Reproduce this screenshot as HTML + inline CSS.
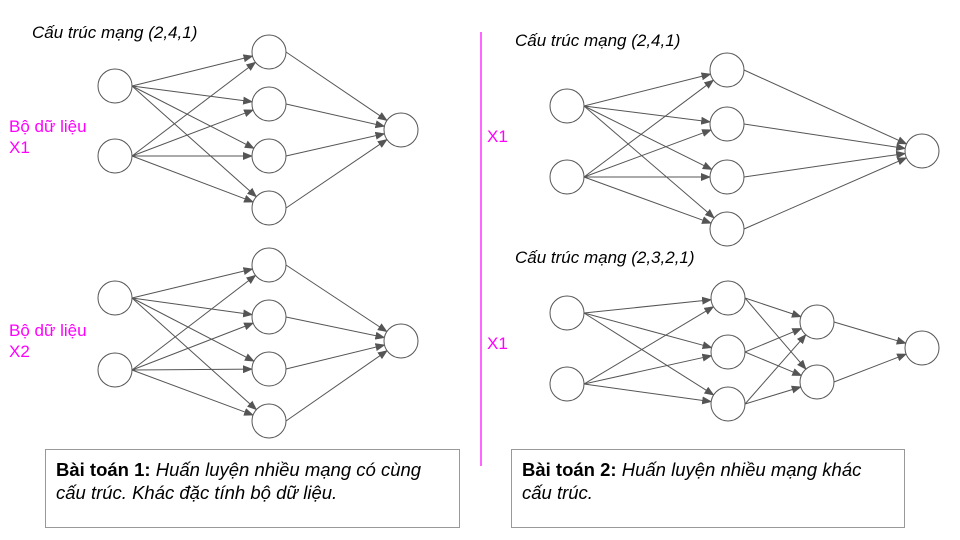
<!DOCTYPE html>
<html><head><meta charset="utf-8"><style>
body{margin:0;width:960px;height:540px;background:#fff;overflow:hidden;position:relative;font-family:"Liberation Sans",sans-serif}
.t{position:absolute;font-size:17px;font-style:italic;color:#000;white-space:nowrap}
.m{position:absolute;font-size:17px;color:#ff00ff;line-height:21px}
.box{position:absolute;border:1px solid #999;font-size:18.5px;line-height:23px;padding:8px 10px 8px 10px;box-sizing:border-box;white-space:nowrap}
svg{position:absolute;left:0;top:0}
</style></head><body>
<svg id="s" width="960" height="540">
<defs><marker id="a" markerWidth="10" markerHeight="8" refX="9" refY="4" orient="auto" markerUnits="userSpaceOnUse"><path d="M0,0 L10,4 L0,8z" fill="#555"/></marker></defs>
<line x1="481" y1="32" x2="481" y2="466" stroke="#ff00ff" stroke-width="1.2"/>
</svg>
<div class="t" style="left:32px;top:23px">Cấu trúc mạng (2,4,1)</div>
<div class="t" style="left:515px;top:31px">Cấu trúc mạng (2,4,1)</div>
<div class="t" style="left:515px;top:248px">Cấu trúc mạng (2,3,2,1)</div>
<div class="m" style="left:9px;top:116px">Bộ dữ liệu<br>X1</div>
<div class="m" style="left:9px;top:320px">Bộ dữ liệu<br>X2</div>
<div class="m" style="left:487px;top:126px">X1</div>
<div class="m" style="left:487px;top:333px">X1</div>
<div class="box" style="left:45px;top:449px;width:415px;height:79px"><b>Bài toán 1:</b> <i>Huấn luyện nhiều mạng có cùng<br>cấu trúc. Khác đặc tính bộ dữ liệu.</i></div>
<div class="box" style="left:511px;top:449px;width:394px;height:79px"><b>Bài toán 2:</b> <i>Huấn luyện nhiều mạng khác<br>cấu trúc.</i></div>
<script>
var s=document.getElementById('s'),R=17,NS='http://www.w3.org/2000/svg';
function net(layers){
 for(var i=0;i<layers.length-1;i++)for(var a of layers[i])for(var b of layers[i+1]){
  var l=document.createElementNS(NS,'line');
  l.setAttribute('x1',a[0]+R);l.setAttribute('y1',a[1]);
  var dx=b[0]-(a[0]+R),dy=b[1]-a[1],d=Math.hypot(dx,dy);
  l.setAttribute('x2',b[0]-R*dx/d);l.setAttribute('y2',b[1]-R*dy/d);
  l.setAttribute('stroke','#555');l.setAttribute('stroke-width','1');l.setAttribute('marker-end','url(#a)');s.appendChild(l);}
 for(var L of layers)for(var p of L){var c=document.createElementNS(NS,'circle');
  c.setAttribute('cx',p[0]);c.setAttribute('cy',p[1]);c.setAttribute('r',R);c.setAttribute('fill','#fff');c.setAttribute('stroke','#555');s.appendChild(c);}
}
net([[[115,86],[115,156]],[[269,52],[269,104],[269,156],[269,208]],[[401,130]]]);
net([[[115,298],[115,370]],[[269,265],[269,317],[269,369],[269,421]],[[401,341]]]);
net([[[567,106],[567,177]],[[727,70],[727,124],[727,177],[727,229]],[[922,151]]]);
net([[[567,313],[567,384]],[[728,298],[728,352],[728,404]],[[817,322],[817,382]],[[922,348]]]);
</script>
</body></html>
